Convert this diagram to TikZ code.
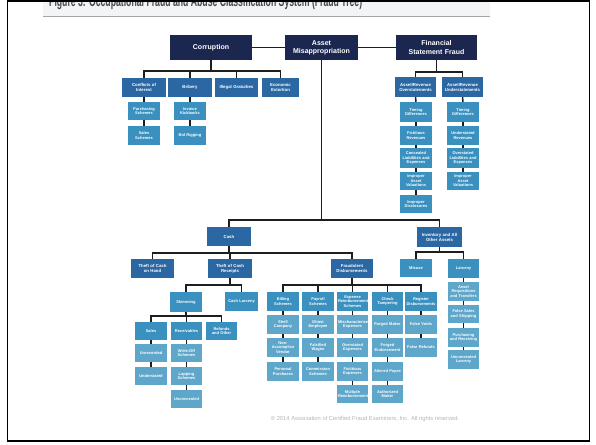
\documentclass[tikz,border=0pt]{standalone}
\usepackage{fontspec}
\setmainfont{Liberation Sans}
\usetikzlibrary{calc}
\definecolor{navy}{HTML}{1C2750}
\definecolor{blueA}{HTML}{2B68A3}
\definecolor{blueB}{HTML}{3A90BE}
\definecolor{blueC}{HTML}{5EA6CA}
\definecolor{linec}{HTML}{1E1E1E}
\definecolor{bandc}{HTML}{F3F4F6}
\definecolor{titlec}{HTML}{4A4A4A}
\definecolor{copyc}{HTML}{B4B4B4}
\newcommand\mkbox[7]{%
  \pgfmathsetmacro\mkbw{#4-#2}\pgfmathsetmacro\mkbh{#5-#3}%
  \pgfmathsetmacro\mkbtw{#4-#2-2}%
  \pgfmathsetmacro\mkbcx{(#2+#4)/2}\pgfmathsetmacro\mkbcy{(#3+#5)/2}%
  \node[#6, minimum width=\mkbw pt, minimum height=\mkbh pt, text width=\mkbtw pt] (#1) at (\mkbcx,\mkbcy) {#7};}
\newcommand\fanout[4]{%
  \draw[ln] (#1.south) -- (#1.south |- #2);
  \draw[ln] (#3.north) -- (#3.north |- #2) -- (#4.north |- #2) -- (#4.north);}
\begin{document}
\begin{tikzpicture}[x=1pt,y=-1pt,
  ln/.style={line width=1.5pt, draw=linec},
  bxs/.style={inner sep=0pt, align=center, text=white, font=\bfseries\fontsize{4}{4.6}\selectfont},
  lv0/.style={bxs, fill=navy, font=\bfseries\fontsize{7}{8.2}\selectfont},
  lv1/.style={bxs, fill=blueA, font=\bfseries\fontsize{4.3}{5}\selectfont},
  lv2/.style={bxs, fill=blueB},
  lv3/.style={bxs, fill=blueC}]
\useasboundingbox (0,0) rectangle (596,444);
\clip (0,0) rectangle (596,444);
% title band
\fill[bandc] (43,0) rectangle (490,16);
\draw[gray!70, line width=0.8pt] (43,16) -- (490,16);
\node[anchor=base west, inner sep=0pt, text=titlec] (title) at (49,7)
  {\resizebox{313pt}{11pt}{\bfseries Figure 3: Occupational Fraud and Abuse Classification System (Fraud Tree)}};
% top level
\mkbox{corr}{170}{35}{252}{60}{lv0}{Corruption}
\mkbox{asset}{285}{35}{358}{60}{lv0}{Asset\\Misappropriation}
\mkbox{fsf}{396}{35}{477}{60}{lv0}{Financial\\Statement Fraud}
\draw[ln] (corr.east) -- (asset.west);
\draw[ln] (asset.east) -- (fsf.west);
% corruption
\mkbox{coi}{122}{78}{166}{97}{lv1}{Conflicts of\\Interest}
\mkbox{bri}{168}{78}{212}{97}{lv1}{Bribery}
\mkbox{ill}{215}{78}{258}{97}{lv1}{Illegal Gratuities}
\mkbox{eco}{262}{78}{299}{97}{lv1}{Economic\\Extortion}
\coordinate (bC) at (0,71);
\fanout{corr}{bC}{coi}{eco}
\foreach \c in {bri,ill} \draw[ln] (\c.north) -- (\c.north |- bC);
\mkbox{ps}{128}{102}{160}{120}{lv2}{Purchasing\\Schemes}
\mkbox{ss}{128}{126}{160}{145}{lv2}{Sales\\Schemes}
\mkbox{ik}{174}{102}{206}{120}{lv2}{Invoice\\Kickbacks}
\mkbox{bg}{174}{126}{206}{145}{lv2}{Bid Rigging}
\draw[ln] (coi.south) -- (ps.north);
\draw[ln] (ps.south) -- (ss.north);
\draw[ln] (bri.south) -- (ik.north);
\draw[ln] (ik.south) -- (bg.north);
% financial statement fraud
\mkbox{aro}{395}{77}{436}{97}{lv1}{Asset/Revenue\\Overstatements}
\mkbox{aru}{442}{77}{483}{97}{lv1}{Asset/Revenue\\Understatements}
\coordinate (bF) at (0,72);
\fanout{fsf}{bF}{aro}{aru}
\mkbox{tda}{400}{102}{432}{122}{lv2}{Timing\\Differences}
\mkbox{frv}{400}{126}{432}{145}{lv2}{Fictitious\\Revenues}
\mkbox{clx}{400}{148}{432}{168}{lv2}{Concealed\\Liabilities and\\Expenses}
\mkbox{iva}{400}{172}{432}{190}{lv2}{Improper\\Asset\\Valuations}
\mkbox{idc}{400}{195}{432}{213}{lv2}{Improper\\Disclosures}
\mkbox{tdb}{447}{102}{479}{122}{lv2}{Timing\\Differences}
\mkbox{urv}{447}{126}{479}{145}{lv2}{Understated\\Revenues}
\mkbox{olx}{447}{148}{479}{168}{lv2}{Overstated\\Liabilities and\\Expenses}
\mkbox{ivb}{447}{172}{479}{190}{lv2}{Improper\\Asset\\Valuations}
\draw[ln] (aro.south) -- (tda.north);
\draw[ln] (tda.south) -- (frv.north);
\draw[ln] (frv.south) -- (clx.north);
\draw[ln] (clx.south) -- (iva.north);
\draw[ln] (iva.south) -- (idc.north);
\draw[ln] (aru.south) -- (tdb.north);
\draw[ln] (tdb.south) -- (urv.north);
\draw[ln] (urv.south) -- (olx.north);
\draw[ln] (olx.south) -- (ivb.north);
% asset misappropriation
\mkbox{cash}{207}{227}{251}{246}{lv1}{Cash}
\mkbox{inv}{417}{227}{462}{247}{lv1}{Inventory and All\\Other Assets}
\coordinate (bT) at (0,220);
\draw[ln] (asset.south) -- (asset.south |- bT);
\draw[ln] (cash.north) -- (cash.north |- bT) -- (inv.north |- bT) -- (inv.north);
\mkbox{tcoh}{131}{259}{174}{278}{lv1}{Theft of Cash\\on Hand}
\mkbox{tcr}{208}{259}{252}{278}{lv1}{Theft of Cash\\Receipts}
\mkbox{fd}{331}{259}{373}{278}{lv1}{Fraudulent\\Disbursements}
\coordinate (bCa) at (0,253);
\fanout{cash}{bCa}{tcoh}{fd}
\draw[ln] (tcr.north) -- (tcr.north |- bCa);
\mkbox{mis}{400}{259}{432}{277}{lv2}{Misuse}
\mkbox{lar}{448}{259}{479}{278}{lv2}{Larceny}
\coordinate (bI) at (0,252);
\fanout{inv}{bI}{mis}{lar}
\mkbox{arq}{448}{282}{479}{301}{lv3}{Asset\\Requisitions\\and Transfers}
\mkbox{fss}{448}{305}{479}{323}{lv3}{False Sales\\and Shipping}
\mkbox{prc}{448}{328}{479}{347}{lv3}{Purchasing\\and Receiving}
\mkbox{ulc}{448}{350}{479}{369}{lv3}{Unconcealed\\Larceny}
\draw[ln] (lar.south) -- (arq.north);
\draw[ln] (arq.south) -- (fss.north);
\draw[ln] (fss.south) -- (prc.north);
\draw[ln] (prc.south) -- (ulc.north);
% theft of cash receipts
\mkbox{skim}{170}{292}{202}{312}{lv2}{Skimming}
\mkbox{cl}{225}{292}{258}{311}{lv2}{Cash Larceny}
\coordinate (bR) at (0,285);
\fanout{tcr}{bR}{skim}{cl}
\mkbox{sal}{135}{322}{167}{340}{lv2}{Sales}
\mkbox{rec}{171}{322}{202}{340}{lv2}{Receivables}
\mkbox{ref}{206}{322}{237}{340}{lv2}{Refunds\\and Other}
\coordinate (bS) at (0,316);
\fanout{skim}{bS}{sal}{ref}
\draw[ln] (rec.north) -- (rec.north |- bS);
\mkbox{unr}{135}{344}{167}{362}{lv3}{Unrecorded}
\mkbox{und}{135}{367}{167}{385}{lv3}{Understated}
\mkbox{wos}{171}{344}{202}{362}{lv3}{Write-Off\\Schemes}
\mkbox{lap}{171}{367}{202}{385}{lv3}{Lapping\\Schemes}
\mkbox{unc}{171}{390}{202}{408}{lv3}{Unconcealed}
\draw[ln] (sal.south) -- (unr.north);
\draw[ln] (unr.south) -- (und.north);
\draw[ln] (rec.south) -- (wos.north);
\draw[ln] (wos.south) -- (lap.north);
\draw[ln] (lap.south) -- (unc.north);
% fraudulent disbursements
\mkbox{bil}{267}{292}{299}{311}{lv2}{Billing\\Schemes}
\mkbox{pay}{302}{292}{334}{311}{lv2}{Payroll\\Schemes}
\mkbox{exs}{337}{292}{368}{311}{lv2}{Expense\\Reimbursement\\Schemes}
\mkbox{chk}{372}{292}{403}{311}{lv2}{Check\\Tampering}
\mkbox{reg}{405}{292}{437}{311}{lv2}{Register\\Disbursements}
\coordinate (bD) at (0,285);
\fanout{fd}{bD}{bil}{reg}
\foreach \c in {pay,exs,chk} \draw[ln] (\c.north) -- (\c.north |- bD);
\mkbox{shc}{267}{315}{299}{334}{lv3}{Shell\\Company}
\mkbox{nav}{267}{338}{299}{357}{lv3}{Non-\\Accomplice\\Vendor}
\mkbox{ppu}{267}{362}{299}{381}{lv3}{Personal\\Purchases}
\mkbox{gem}{302}{315}{334}{334}{lv3}{Ghost\\Employee}
\mkbox{fwa}{302}{338}{334}{357}{lv3}{Falsified\\Wages}
\mkbox{csc}{302}{362}{334}{381}{lv3}{Commission\\Schemes}
\mkbox{mex}{337}{315}{368}{334}{lv3}{Mischaracterized\\Expenses}
\mkbox{oex}{337}{338}{368}{357}{lv3}{Overstated\\Expenses}
\mkbox{fex}{337}{362}{368}{381}{lv3}{Fictitious\\Expenses}
\mkbox{mre}{337}{385}{368}{403}{lv3}{Multiple\\Reimbursements}
\mkbox{fma}{372}{315}{403}{334}{lv3}{Forged Maker}
\mkbox{fen}{372}{338}{403}{357}{lv3}{Forged\\Endorsement}
\mkbox{apa}{372}{362}{403}{381}{lv3}{Altered Payee}
\mkbox{ama}{372}{385}{403}{403}{lv3}{Authorized\\Maker}
\mkbox{fvo}{405}{315}{437}{334}{lv3}{False Voids}
\mkbox{fre}{405}{338}{437}{357}{lv3}{False Refunds}
\draw[ln] (bil.south) -- (shc.north);
\draw[ln] (shc.south) -- (nav.north);
\draw[ln] (nav.south) -- (ppu.north);
\draw[ln] (pay.south) -- (gem.north);
\draw[ln] (gem.south) -- (fwa.north);
\draw[ln] (fwa.south) -- (csc.north);
\draw[ln] (exs.south) -- (mex.north);
\draw[ln] (mex.south) -- (oex.north);
\draw[ln] (oex.south) -- (fex.north);
\draw[ln] (fex.south) -- (mre.north);
\draw[ln] (chk.south) -- (fma.north);
\draw[ln] (fma.south) -- (fen.north);
\draw[ln] (fen.south) -- (apa.north);
\draw[ln] (apa.south) -- (ama.north);
\draw[ln] (reg.south) -- (fvo.north);
\draw[ln] (fvo.south) -- (fre.north);
% copyright
\node[text=copyc, font=\fontsize{5.8}{7}\selectfont, inner sep=0pt] (copy) at (365,419)
  {\textcopyright{} 2014 Association of Certified Fraud Examiners, Inc. All rights reserved.};
% outer frame
\draw[black, line width=1.8pt] (7.5,1) rectangle (589.5,441);
\end{tikzpicture}
\end{document}
